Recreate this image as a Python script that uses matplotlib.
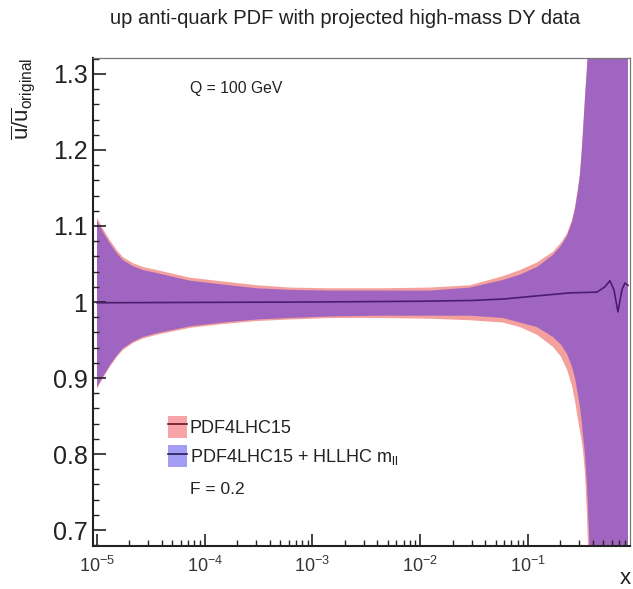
import matplotlib
matplotlib.use("Agg")
import matplotlib.pyplot as plt
from matplotlib.patches import Patch
from matplotlib.lines import Line2D
from matplotlib.legend_handler import HandlerTuple
from matplotlib.ticker import LogLocator, MultipleLocator, FixedLocator, FixedFormatter

plt.rcParams['font.family'] = ['Liberation Sans', 'DejaVu Sans']
plt.rcParams['mathtext.fontset'] = 'custom'
plt.rcParams['mathtext.rm'] = 'Liberation Sans'
plt.rcParams['mathtext.it'] = 'Liberation Sans'
plt.rcParams['mathtext.bf'] = 'Liberation Sans:bold'

# ---------------- data ----------------
x_band = [1.000e-5, 1.137e-5, 1.320e-5, 1.533e-5, 1.743e-5, 2.159e-5, 2.673e-5, 3.605e-5,
          7.297e-5, 1.477e-4, 3.055e-4, 6.183e-4, 1.453e-3, 4.231e-3,
          1.232e-2, 2.895e-2, 5.862e-2, 8.43e-2, 0.1212, 0.1706, 0.2024, 0.2301, 0.2561,
          0.2732, 0.2911, 0.3039, 0.3172, 0.3240, 0.3381, 0.3529, 0.3605, 0.3763, 0.4656,
          0.847]
pdf4lhc_up = [1.111, 1.096, 1.081, 1.068, 1.059, 1.051, 1.046, 1.042,
              1.032, 1.027, 1.022, 1.019, 1.018, 1.018,
              1.019, 1.022, 1.034, 1.042, 1.052, 1.066, 1.078, 1.090, 1.108,
              1.125, 1.150, 1.170, 1.205, 1.226, 1.270, 1.310, 1.330, 1.400, 2.0,
              2.0]
pdf4lhc_lo = [0.886, 0.900, 0.915, 0.928, 0.937, 0.946, 0.952, 0.957,
              0.966, 0.971, 0.975, 0.977, 0.979, 0.979,
              0.978, 0.976, 0.973, 0.967, 0.957, 0.941, 0.928, 0.911, 0.890,
              0.870, 0.845, 0.830, 0.815, 0.805, 0.775, 0.720, 0.680, 0.600, 0.3,
              0.3]
hllhc_up = [1.107, 1.092, 1.077, 1.064, 1.055, 1.047, 1.042, 1.038,
            1.028, 1.023, 1.018, 1.016, 1.015, 1.015,
            1.015, 1.019, 1.029, 1.036, 1.046, 1.062, 1.074, 1.087, 1.105,
            1.122, 1.147, 1.167, 1.202, 1.223, 1.267, 1.307, 1.330, 1.400, 2.0,
            2.0]
hllhc_lo = [0.888, 0.902, 0.917, 0.930, 0.939, 0.948, 0.954, 0.959,
            0.968, 0.973, 0.977, 0.979, 0.981, 0.982,
            0.982, 0.982, 0.979, 0.973, 0.967, 0.954, 0.944, 0.932, 0.915,
            0.900, 0.878, 0.862, 0.840, 0.825, 0.800, 0.760, 0.730, 0.660, 0.3,
            0.3]

x_line = [1e-5, 1e-3, 1e-2, 0.03, 0.06, 0.12, 0.245, 0.437, 0.518, 0.576, 0.628,
          0.684, 0.744, 0.794, 0.847]
hllhc_central = [0.999, 1.0, 1.001, 1.002, 1.004, 1.008, 1.012, 1.013, 1.020, 1.028, 1.016,
                 0.987, 1.016, 1.025, 1.022]

y_ticks = [0.7, 0.8, 0.9, 1.0, 1.1, 1.2, 1.3]
y_ticklabels = ['0.7', '0.8', '0.9', '1', '1.1', '1.2', '1.3']

title = 'up anti-quark PDF with projected high-mass DY data'
labels = ['PDF4LHC15', r'PDF4LHC15 + HLLHC m$_{\rm ll}$']

# ---------------- styling ----------------
c_pink = '#f4a09c'
c_purple = '#a065c0'
c_line = '#4a1d6e'

W, H = 633, 589
fig = plt.figure(figsize=(W / 100, H / 100), dpi=100)
ax = fig.add_axes([93 / W, 1 - 546 / H, (630 - 93) / W, (546 - 58) / H])

ax.fill_between(x_band, pdf4lhc_lo, pdf4lhc_up, color=c_pink, lw=0)
ax.fill_between(x_band, hllhc_lo, hllhc_up, color=c_purple, lw=0)
ax.plot(x_line, hllhc_central, color=c_line, lw=1.2)

ax.set_xscale('log')
ax.set_xlim(9.18e-6, 0.885)
ax.set_ylim(0.679, 1.321)

ax.xaxis.set_major_locator(LogLocator(base=10, numticks=10))
ax.xaxis.set_minor_locator(LogLocator(base=10, subs=range(2, 10), numticks=20))
ax.yaxis.set_major_locator(FixedLocator(y_ticks))
ax.yaxis.set_major_formatter(FixedFormatter(y_ticklabels))
ax.yaxis.set_minor_locator(MultipleLocator(0.02))

ax.tick_params(axis='both', which='both', direction='in', top=False, right=False)
ax.tick_params(axis='both', which='major', length=9, width=1.2, color='#222')
ax.tick_params(axis='both', which='minor', length=4.5, width=1.0, color='#222')
ax.tick_params(axis='y', which='major', labelsize=18, pad=4, labelcolor='#222')
ax.tick_params(axis='x', which='major', labelsize=13, pad=7, labelcolor='#333')

for s in ['left', 'bottom']:
    ax.spines[s].set_linewidth(1.5)
    ax.spines[s].set_color('#222')
for s in ['top', 'right']:
    ax.spines[s].set_linewidth(0.9)
    ax.spines[s].set_color('#777')

handles = [(Patch(facecolor='#f7a3a8', edgecolor='none'), Line2D([], [], color='#5a1a2a', lw=1.2)),
           (Patch(facecolor='#a29df2', edgecolor='none'), Line2D([], [], color='#2a1a5a', lw=1.2))]
leg = ax.legend(handles, labels, handler_map={tuple: HandlerTuple(ndivide=1)},
                loc='upper left', bbox_to_anchor=(168 / W, 1 - 416 / H),
                bbox_transform=fig.transFigure, frameon=False, fontsize=13,
                handlelength=1.05, handleheight=1.5, handletextpad=0.15,
                labelspacing=0.4, borderpad=0, borderaxespad=0)
for t in leg.get_texts():
    t.set_color('#222')

fig.text(190 / W, 1 - 489 / H, 'F = 0.2', fontsize=12.5, va='center', ha='left', color='#222')
fig.text(190 / W, 1 - 88 / H, 'Q = 100 GeV', fontsize=11.3, va='center', ha='left', color='#222')
fig.text(345 / W, 1 - 18 / H, title, fontsize=14.5, va='center', ha='center', color='#222')
fig.text(625 / W, 1 - 578 / H, 'x', fontsize=16, va='center', ha='center', color='#222')
fig.text(23 / W, 1 - 58 / H, r'$\overline{\rm u}/\overline{\rm u}_{\rm original}$', fontsize=16,
         rotation=90, va='top', ha='center', color='#222')

fig.savefig('out.png', dpi=100)
